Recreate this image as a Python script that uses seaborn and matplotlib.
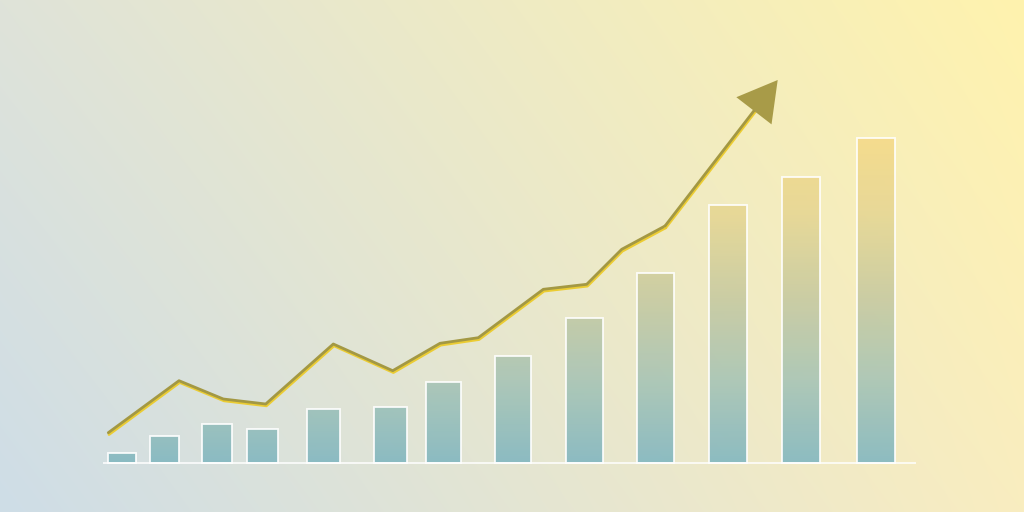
import numpy as np
import pandas as pd
import matplotlib.pyplot as plt
import matplotlib.patheffects as pe
from matplotlib.colors import LinearSegmentedColormap
from matplotlib.patches import FancyArrowPatch
import seaborn as sns

# bars (x position, height above the base line)
bar_x = [121.5, 164.7, 216.5, 262.7, 323.3, 390.0, 443.8, 513.3, 584.2, 655.3, 728.3, 801.2, 875.8]
bar_h = [10, 27, 39, 34.6, 54, 56, 81.6, 107.6, 145.6, 190.6, 258.3, 286.6, 325]

# trend line, last point is the arrow tip
line_x = [108.3, 179, 223.3, 265.7, 333.3, 392.7, 440, 478.3, 543.3, 586.7, 621.7, 665, 777.7]
line_y = [30.6, 82.6, 64.3, 59.3, 119.3, 92.6, 120, 125.6, 174, 179, 214, 237.3, 383.3]

bar_w = [28, 29, 30, 31, 33, 33, 35, 36, 37, 37, 38, 38, 38]

df_bars = pd.DataFrame({'x': bar_x, 'h': bar_h})
df_line = pd.DataFrame({'x': line_x, 'y': line_y})

sns.set_theme(style='white')
fig = plt.figure(figsize=(10.24, 5.12), dpi=100)
ax = fig.add_axes([0, 0, 1, 1])
ax.set_xlim(0, 1024)
ax.set_ylim(-48.7, 463.3)
ax.set_axis_off()

# background gradient
tl = np.array([223, 227, 217]) / 255
tr = np.array([255, 243, 174]) / 255
bl = np.array([206, 221, 231]) / 255
br = np.array([249, 237, 192]) / 255
u = np.linspace(0, 1, 1024)[None, :, None]
v = np.linspace(0, 1, 512)[:, None, None]
bg = (1 - v) * ((1 - u) * tl + u * tr) + v * ((1 - u) * bl + u * br)
ax.imshow(bg, extent=(0, 1024, -48.7, 463.3), aspect='auto', zorder=0)

# bars
sns.barplot(data=df_bars, x='x', y='h', native_scale=True, errorbar=None,
            color='#9cc4bf', ax=ax, zorder=2)
bar_cmap = LinearSegmentedColormap.from_list(
    'bars', ['#84b8c1', '#a9c5b6', '#c8cba2', '#e6d795', '#f6db8a'])
grad = np.linspace(1, 0, 256)[:, None]
for p, w in zip(ax.patches, bar_w):
    cx = p.get_x() + p.get_width() / 2
    p.set_x(cx - w / 2)
    p.set_width(w)
    p.set_facecolor('none')
    p.set_edgecolor('white')
    p.set_linewidth(1.3)
    p.set_alpha(0.9)
    im = ax.imshow(grad, cmap=bar_cmap, vmin=0, vmax=1, aspect='auto',
                   extent=(cx - w / 2, cx + w / 2, 0, 330), alpha=0.92, zorder=1.9)
    im.set_clip_path(p)

ax.hlines(0, 103, 916, color='white', lw=1.3, alpha=0.85, zorder=2.5)

# trend line with arrow (last segment drawn by the arrow itself)
glow = [pe.SimpleLineShadow(offset=(0.5, -1.3), shadow_color='#eccb2a', alpha=0.95),
        pe.Normal()]
sns.lineplot(data=df_line.iloc[:-1], x='x', y='y', sort=False, color='#a39843',
             lw=2.0, ax=ax, zorder=3)
ax.lines[-1].set_path_effects(glow)
shaft = FancyArrowPatch((line_x[-2], line_y[-2]), (line_x[-1], line_y[-1]),
                        arrowstyle='-', mutation_scale=1, shrinkA=0, shrinkB=12,
                        lw=2.0, color='#a39843', zorder=3)
shaft.set_path_effects(glow)
ax.add_patch(shaft)
head = FancyArrowPatch((line_x[-2], line_y[-2]), (line_x[-1], line_y[-1]),
                       arrowstyle='-|>,head_length=28,head_width=16',
                       mutation_scale=1, shrinkA=0, shrinkB=0, lw=0,
                       color='#a89b48', zorder=4)
ax.add_patch(head)

fig.savefig('out.png', dpi=100)
